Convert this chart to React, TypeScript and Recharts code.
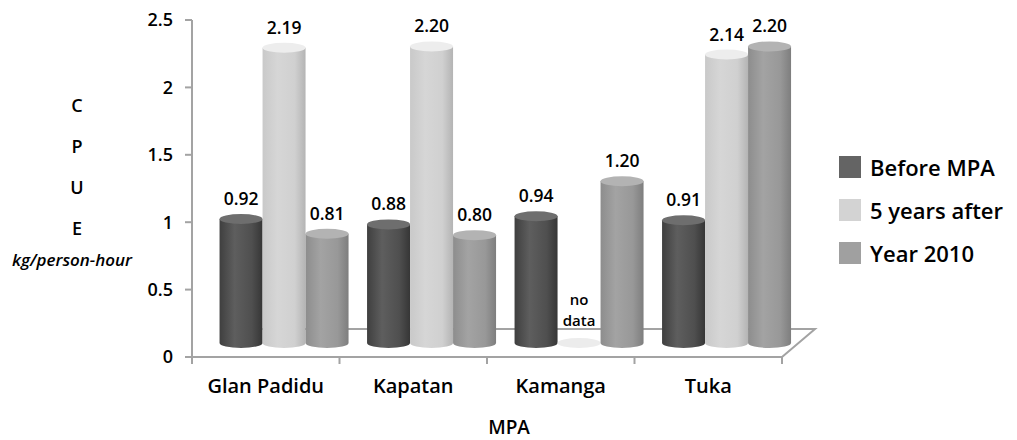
import React from 'react';
import { BarChart, Bar, XAxis, YAxis, Legend, LabelList, ReferenceLine } from 'recharts';

const categories = ['Glan Padidu', 'Kapatan', 'Kamanga', 'Tuka'];
const beforeMPA = [0.92, 0.88, 0.94, 0.91];
const fiveYearsAfter = [2.19, 2.2, 0, 2.14]; // Kamanga: no data
const year2010 = [0.81, 0.8, 1.2, 2.2];
const yTicks = [0, 0.5, 1, 1.5, 2, 2.5];
const seriesNames = ['Before MPA', '5 years after', 'Year 2010'];
const seriesKeys = ['before', 'after5', 'y2010'];
const yTitleLetters = ['C', 'P', 'U', 'E'];
const yTitleUnit = 'kg/person-hour';
const xTitle = 'MPA';
const noDataText = ['no', 'data'];

const data = categories.map((c, i) => ({
  name: c,
  before: beforeMPA[i],
  after5: fiveYearsAfter[i],
  y2010: year2010[i],
}));

const W = 1017;
const H = 440;
const M_LEFT = 192;
const M_RIGHT = 235;
const M_TOP = 20;
const X_AXIS_H = 83;
const BAND = (W - M_LEFT - M_RIGHT) / categories.length;
const DX = 19;
const DY = 14;
const RY = 5;
const DEPTH_X = 33;
const DEPTH_Y = 28;
const FONT = '"Open Sans", "Noto Sans", sans-serif';
const FW = 600;
const AXIS_COLOR = '#a3a3a3';

const legendColors = ['#646464', '#d3d3d3', '#a0a0a0'];
const topColors = ['#6e6e6e', '#ededed', '#b3b3b3'];
const gradStops = [
  ['#3f3f3f', '#5e5e5e', '#4f4f4f', '#363636'],
  ['#c9c9c9', '#d6d6d6', '#d0d0d0', '#b4b4b4'],
  ['#8d8d8d', '#a3a3a3', '#989898', '#7e7e7e'],
];

const makeCylinder = (si: number) => (props: any) => {
  const { x, y, width, height, value } = props;
  const v = Array.isArray(value) ? value[1] - value[0] : value;
  const left = x + DX;
  const w = width;
  const baseY = y + height - DY;
  const topY = y - DY;
  if (!v) {
    return <ellipse cx={left + w / 2} cy={baseY} rx={w / 2} ry={RY} fill="#ececec" />;
  }
  return (
    <g>
      <path
        d={`M${left},${topY} L${left},${baseY} A${w / 2},${RY} 0 0 0 ${left + w},${baseY} L${left + w},${topY} Z`}
        fill={`url(#cyl${si})`}
      />
      <ellipse cx={left + w / 2} cy={topY} rx={w / 2} ry={RY} fill={topColors[si]} />
    </g>
  );
};

const renderValueLabel = (props: any) => {
  const vb = props.viewBox || props;
  const x = vb.x ?? props.x;
  const y = vb.y ?? props.y;
  const width = vb.width ?? props.width;
  const value = props.value;
  const cx = x + DX + width / 2;
  if (!value) {
    return (
      <g>
        <text x={cx} y={y - 52} textAnchor="middle" fontSize={15} fontWeight={FW} fontFamily={FONT} fill="#000">{noDataText[0]}</text>
        <text x={cx} y={y - 31.5} textAnchor="middle" fontSize={15} fontWeight={FW} fontFamily={FONT} fill="#000">{noDataText[1]}</text>
      </g>
    );
  }
  return (
    <text x={cx} y={y - DY - RY - 9} textAnchor="middle" fontSize={17.5} fontWeight={FW} fontFamily={FONT} fill="#000">
      {Number(value).toFixed(2)}
    </text>
  );
};

const XTick = (props: any) => {
  const { x, y, payload, index } = props;
  const half = BAND / 2;
  return (
    <g>
      <line x1={x - half} y1={y} x2={x - half} y2={y + 7} stroke={AXIS_COLOR} strokeWidth={2} />
      {index === categories.length - 1 && (
        <line x1={x + half} y1={y} x2={x + half} y2={y + 7} stroke={AXIS_COLOR} strokeWidth={2} />
      )}
      <text x={x} y={y + 36} textAnchor="middle" fontSize={20} fontWeight={FW} fontFamily={FONT} fill="#000">
        {payload.value}
      </text>
    </g>
  );
};

const FloorShape = (props: any) => {
  const { x1, y1, x2 } = props;
  return (
    <path
      d={`M${x1 + DEPTH_X},${y1 - DEPTH_Y} L${x2 + DEPTH_X},${y1 - DEPTH_Y} L${x2},${y1}`}
      fill="none"
      stroke={AXIS_COLOR}
      strokeWidth={2}
    />
  );
};

const YTitle = () => (
  <g>
    {yTitleLetters.map((l, i) => (
      <text key={l} x={77} y={112 + i * 41} textAnchor="middle" fontSize={18} fontWeight={FW} fontFamily={FONT} fill="#000">
        {l}
      </text>
    ))}
    <text x={72} y={266} textAnchor="middle" fontSize={17} fontWeight={FW} fontStyle="italic" fontFamily={FONT} fill="#000">
      {yTitleUnit}
    </text>
  </g>
);

const XTitle = () => (
  <text x={509} y={434} textAnchor="middle" fontSize={19} fontWeight={FW} fontFamily={FONT} fill="#000">
    {xTitle}
  </text>
);

const LegendContent = () => (
  <div style={{ fontFamily: FONT }}>
    {seriesNames.map((n, i) => (
      <div key={n} style={{ display: 'flex', alignItems: 'center', height: 43 }}>
        <div style={{ width: 22, height: 22, background: legendColors[i], marginRight: 9 }} />
        <span style={{ fontSize: 22, fontWeight: FW, color: '#000', lineHeight: '22px' }}>{n}</span>
      </div>
    ))}
  </div>
);

export default function App() {
  return (
    <div style={{ position: 'absolute', left: 0, top: 0, width: W, height: H, background: '#fff' }}>
      <BarChart
        width={W}
        height={H}
        data={data}
        margin={{ top: M_TOP, right: M_RIGHT, bottom: 0, left: 0 }}
        barCategoryGap="5.8%"
        barGap={0}
      >
        <defs>
          {gradStops.map((s, i) => (
            <linearGradient key={i} id={`cyl${i}`} x1="0" y1="0" x2="1" y2="0">
              <stop offset="0" stopColor={s[0]} />
              <stop offset="0.35" stopColor={s[1]} />
              <stop offset="0.75" stopColor={s[2]} />
              <stop offset="1" stopColor={s[3]} />
            </linearGradient>
          ))}
        </defs>
        <ReferenceLine y={0} shape={FloorShape} zIndex={-10} ifOverflow="visible" />
        <XAxis
          dataKey="name"
          height={X_AXIS_H}
          axisLine={{ stroke: AXIS_COLOR, strokeWidth: 2 }}
          tickLine={false}
          tickSize={0}
          tickMargin={0}
          tick={<XTick />}
          interval={0}
          label={<XTitle />}
        />
        <YAxis
          width={M_LEFT}
          domain={[0, 2.5]}
          ticks={yTicks}
          interval={0}
          axisLine={{ stroke: AXIS_COLOR, strokeWidth: 2 }}
          tickLine={{ stroke: AXIS_COLOR, strokeWidth: 2 }}
          tickSize={7}
          tickMargin={12}
          tick={{ fill: '#000', fontSize: 18, fontWeight: FW, fontFamily: FONT }}
          label={<YTitle />}
        />
        <Legend
          layout="vertical"
          align="center"
          verticalAlign="middle"
          wrapperStyle={{ left: 839, top: 145, width: 178, height: 130 }}
          content={<LegendContent />}
        />
        {seriesKeys.map((k, si) => (
          <Bar key={k} dataKey={k} name={seriesNames[si]} fill={legendColors[si]} isAnimationActive={false} shape={makeCylinder(si)}>
            <LabelList dataKey={k} content={renderValueLabel} />
          </Bar>
        ))}
      </BarChart>
    </div>
  );
}
